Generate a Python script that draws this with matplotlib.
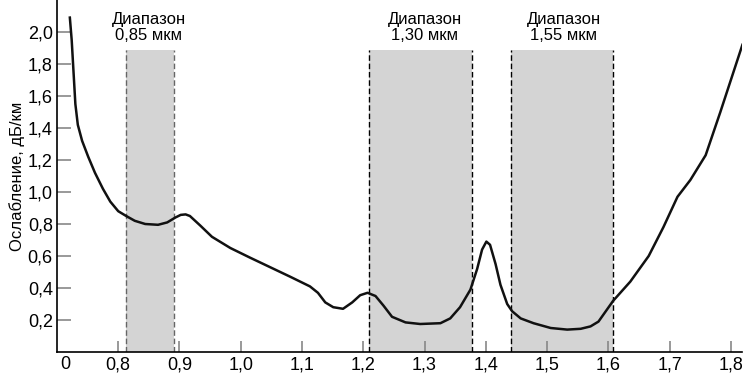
import matplotlib.pyplot as plt

plt.rcParams['font.family'] = ['Liberation Sans', 'DejaVu Sans']

# wavelength, um (axis is broken: 0 is drawn at 0.7)
wl = [0.721, 0.724, 0.727, 0.730, 0.734, 0.741, 0.751, 0.762, 0.775, 0.787, 0.800,
      0.813, 0.827, 0.844, 0.865, 0.880, 0.893, 0.902, 0.910, 0.917, 0.934, 0.953,
      0.983, 1.015, 1.048, 1.081, 1.113, 1.126, 1.138, 1.151, 1.167, 1.182,
      1.195, 1.207, 1.220, 1.233, 1.247, 1.269, 1.293, 1.326, 1.342, 1.358,
      1.375, 1.386, 1.394, 1.401, 1.407, 1.416, 1.424, 1.435, 1.443, 1.457,
      1.478, 1.506, 1.533, 1.555, 1.571, 1.584, 1.608, 1.636, 1.666, 1.690,
      1.713, 1.734, 1.759, 1.783, 1.819]
loss = [2.09, 1.95, 1.75, 1.55, 1.42, 1.32, 1.22, 1.12, 1.02, 0.94, 0.88,
        0.85, 0.82, 0.80, 0.795, 0.81, 0.84, 0.857, 0.86, 0.85, 0.79, 0.72,
        0.65, 0.59, 0.53, 0.47, 0.41, 0.37, 0.31, 0.28, 0.27, 0.31,
        0.355, 0.37, 0.35, 0.29, 0.22, 0.185, 0.175, 0.18, 0.21, 0.28,
        0.39, 0.52, 0.64, 0.69, 0.67, 0.55, 0.42, 0.30, 0.255, 0.21,
        0.18, 0.15, 0.14, 0.145, 0.16, 0.19, 0.32, 0.44, 0.60, 0.78,
        0.97, 1.075, 1.23, 1.50, 1.92]

bands = [(0.813, 0.891), (1.210, 1.377), (1.442, 1.607)]
band_labels = ['Диапазон\n0,85 мкм', 'Диапазон\n1,30 мкм', 'Диапазон\n1,55 мкм']
band_label_x = [0.850, 1.300, 1.527]
band_edge_colors = ['#666666', 'black', 'black']

xticks = [0.8, 0.9, 1.0, 1.1, 1.2, 1.3, 1.4, 1.5, 1.6, 1.7, 1.8]
yticks = [0.2, 0.4, 0.6, 0.8, 1.0, 1.2, 1.4, 1.6, 1.8, 2.0]

fig = plt.figure(figsize=(7.43, 3.73), dpi=100)
ax = fig.add_axes([0.0767, 0.0563, 0.9225, 0.9437])

band_top = 1.89
for (a, b), c in zip(bands, band_edge_colors):
    ax.fill_between([a, b], 0, band_top, color='#d4d4d4', lw=0)
    ax.plot([a, a], [0, band_top], ls=(0, (4, 2)), color=c, lw=1)
    ax.plot([b, b], [0, band_top], ls=(0, (4, 2)), color=c, lw=1)
for x, t in zip(band_label_x, band_labels):
    ax.text(x, 2.03, t, ha='center', va='center', fontsize=12, linespacing=1.05)

ax.plot(wl, loss, color='#111111', lw=1.8)

ax.set_xlim(0.7, 1.819)
ax.set_ylim(0, 2.2)
ax.set_xticks(xticks)
ax.set_xticklabels([f'{v:.1f}'.replace('.', ',') for v in xticks], fontsize=13)
ax.set_xticks([0.713], minor=True)
ax.set_xticklabels(['0'], minor=True, fontsize=13)
ax.set_yticks(yticks)
ax.set_yticklabels([f'{v:.1f}'.replace('.', ',') for v in yticks], fontsize=13)
ax.tick_params(axis='both', direction='in', color='#888888', width=1.2)
ax.tick_params(axis='x', which='major', length=8, pad=3)
ax.tick_params(axis='x', which='minor', length=0, pad=3)
ax.tick_params(axis='y', length=10, pad=3)

for s in ['top', 'right']:
    ax.spines[s].set_visible(False)
ax.spines['left'].set_linewidth(1.2)
ax.spines['bottom'].set_linewidth(1.2)
ax.set_ylabel('Ослабление, дБ/км', fontsize=12, labelpad=2)

fig.savefig('out.png', dpi=100)
